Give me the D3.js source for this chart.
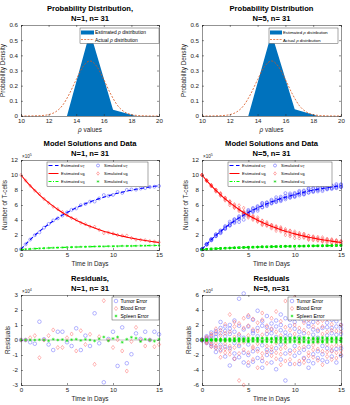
<!DOCTYPE html>
<html><head><meta charset="utf-8">
<script src="https://cdn.jsdelivr.net/npm/d3@7"></script>
<style>
html,body{margin:0;padding:0;background:#fff;}
svg{display:block;font-family:"Liberation Sans",Arial,sans-serif;}
</style></head>
<body>
<svg id="fig" width="350" height="405"></svg>
<script>
// ---------------- DATA ----------------
// Probability distributions (rho)
const rhoEstX = [10, 11.67, 13.33, 15, 16.67, 18.33, 20];
const rhoEstN1 = [0, 0, 0, 0.555, 0.042, 0, 0];
const rhoEstN5 = [0, 0, 0, 0.545, 0.045, 0, 0];
const rhoActX = [10,10.5,11,11.5,12,12.5,13,13.5,14,14.5,15,15.5,16,16.5,17,17.5,18,18.5,19,19.5,20];
const rhoAct  = [0,0,0.001,0.003,0.009,0.027,0.069,0.145,0.240,0.326,0.363,0.326,0.240,0.145,0.069,0.027,0.009,0.003,0.001,0,0];

// Time points (days)
const days = [0,0.5,1,1.5,2,2.5,3,3.5,4,4.5,5,5.5,6,6.5,7,7.5,8,8.5,9,9.5,10,10.5,11,11.5,12,12.5,13,13.5,14,14.5,15];
// Model solutions (x10^5 cells)
const uT = [0.10,0.76,1.38,1.95,2.48,2.98,3.44,3.87,4.28,4.65,5.00,5.32,5.62,5.91,6.17,6.41,6.64,6.85,7.04,7.22,7.40,7.56,7.70,7.85,7.97,8.09,8.20,8.31,8.40,8.49,8.57];
const uB = [10.0,9.26,8.58,7.94,7.36,6.81,6.31,5.85,5.41,5.01,4.64,4.30,3.98,3.69,3.41,3.16,2.93,2.71,2.51,2.33,2.15,2.00,1.85,1.71,1.59,1.47,1.36,1.26,1.17,1.08,1.00];
const uS = [0.05,0.10,0.14,0.18,0.21,0.24,0.27,0.30,0.32,0.34,0.36,0.38,0.40,0.42,0.43,0.45,0.46,0.48,0.49,0.50,0.51,0.52,0.53,0.54,0.55,0.56,0.57,0.58,0.59,0.60,0.61];

// Residuals N=1 (x10^4), one per time point
const resTumorN1 = [0,0,-0.15,-0.25,1.22,0.05,-0.3,-0.67,0.55,0.55,-0.15,-0.4,0.78,-0.67,0.29,-0.4,1.78,-0.22,-2.82,0.07,0.55,-1.73,0.84,-1.55,-0.95,0.44,0.07,0.55,0.0,0.55,0.38];
const resBloodN1 = [0,0,0.15,0.29,-1.18,0,0.29,0.67,-0.5,-0.5,0.15,0.4,-0.73,0.62,-0.3,0.38,-1.62,0.22,2.62,0,-0.5,0.02,-0.73,-2.07,-0.1,0.84,0,-0.4,0,-0.45,-0.3];
const resSpleenN1 = [0,0,0,0,0.02,0,-0.05,0.05,0,0.03,-0.05,0.02,0.05,-0.03,0.04,0,-0.06,0.08,0.2,-0.05,0.1,0.2,-0.15,0.05,0.18,0.12,-0.1,0.05,0,-0.08,0.05];

// Residuals N=5 (x10^4), five per time point
const resTumorN5 = [
 [0,0,0,0,0],[0.3,-0.2,0.5,-0.4,0.1],[0.6,-0.5,1.0,-0.8,0.2],[1.2,-1.0,0.4,-1.6,0.8],
 [2.4,-1.3,0.9,-0.6,1.6],[1.8,-2.2,0.5,1.2,-0.9],[-3.4,2.0,-1.1,0.8,1.5],[2.6,-1.8,-0.4,1.1,-2.5],
 [5.5,-2.3,1.9,-0.8,0.6],[6.2,-3.0,1.4,-1.7,0.3],[-2.0,3.1,-0.6,1.8,-3.4],[2.7,-1.5,0.9,-2.9,1.2],
 [3.9,-2.4,0.5,1.6,-1.2],[-2.8,1.9,-0.7,2.5,-3.7],[3.2,-1.3,0.8,-2.0,1.7],[-1.6,2.2,-3.0,0.9,1.4],
 [-3.9,1.8,2.6,-1.1,0.4],[2.0,-2.6,1.3,-0.6,3.4],[-5.4,2.9,-1.8,1.0,0.5],[1.9,-3.2,2.7,-1.4,0.6],
 [-2.1,1.5,3.3,-0.8,2.4],[2.9,-1.7,-3.2,1.1,0.4],[-1.3,2.6,-2.4,3.1,0.9],[1.8,-3.7,2.2,-0.9,-2.8],
 [2.4,-1.9,0.7,-3.1,1.4],[-2.4,1.2,2.8,-1.5,0.3],[1.6,-2.7,3.4,-0.8,-1.9],[-1.1,2.3,-2.9,1.7,0.6],
 [2.7,-1.4,0.9,-2.2,1.6],[-3.0,1.8,-1.2,2.5,0.7],[1.5,-2.1,0.8,-1.1,2.0]];
const resBloodN5 = [
 [0,0,0,0,0],[-0.3,0.2,-0.4,0.4,-0.1],[-0.6,0.5,-0.9,0.8,-0.2],[-1.1,1.0,-0.4,1.5,-0.8],
 [-2.3,1.3,-0.9,0.6,-1.5],[-1.7,2.1,-0.5,-1.2,0.9],[3.4,-1.9,1.1,-0.8,-1.4],[-2.5,1.8,0.4,-1.0,2.4],
 [-5.4,2.2,-1.8,0.8,-0.6],[-6.0,2.9,-1.3,1.6,-0.3],[1.9,-3.0,0.6,-1.7,3.3],[-2.6,1.4,-0.9,2.8,-1.1],
 [-3.7,2.3,-0.5,-1.5,1.2],[2.7,-1.8,0.7,-2.4,3.6],[-3.1,1.2,-0.8,1.9,-1.6],[1.5,-2.1,2.9,-0.9,-1.3],
 [3.8,-1.7,-2.5,1.1,-0.4],[-1.9,2.5,-1.2,0.6,-3.3],[5.2,-2.8,1.7,-1.0,-0.5],[-1.8,3.1,-2.6,1.3,5.1],
 [2.0,-1.4,-3.2,0.8,5.7],[-2.8,1.6,4.5,-1.1,-0.4],[1.3,-2.5,2.3,-3.0,-0.9],[-1.7,3.6,-2.1,0.9,2.7],
 [-2.3,1.8,-0.7,3.0,-1.3],[2.3,-1.2,-2.7,1.4,-0.3],[-1.5,2.6,-3.3,0.8,1.8],[1.1,-2.2,2.8,-1.6,-0.6],
 [-2.6,1.3,-0.9,2.1,-1.5],[2.9,-1.7,1.2,-2.4,-0.7],[-1.4,2.0,-0.8,1.1,-1.9]];
const resSpleenN5 = [
 [0,0,0,0,0],[0.02,-0.03,0.05,-0.02,0.01],[0.05,-0.06,0.08,-0.04,0.02],[0.08,-0.1,0.12,-0.05,0.04],
 [0.1,-0.12,0.15,-0.08,0.05],[0.12,-0.15,0.1,-0.1,0.06],[-0.15,0.18,-0.1,0.08,0.12],[0.16,-0.14,0.2,-0.1,-0.06],
 [0.2,-0.18,0.1,-0.12,0.15],[0.22,-0.2,0.12,-0.15,0.05],[-0.18,0.24,-0.1,0.15,-0.22],[0.2,-0.15,0.25,-0.2,0.1],
 [0.25,-0.22,0.1,0.18,-0.12],[-0.2,0.26,-0.15,0.2,-0.25],[0.28,-0.18,0.1,-0.24,0.15],[-0.22,0.25,-0.28,0.12,0.18],
 [-0.3,0.2,0.28,-0.15,0.05],[0.25,-0.3,0.15,-0.1,0.3],[-0.32,0.28,-0.2,0.12,0.08],[0.22,-0.3,0.3,-0.15,0.1],
 [-0.25,0.2,0.32,-0.12,0.28],[0.3,-0.22,-0.3,0.15,0.06],[-0.18,0.3,-0.28,0.32,0.1],[0.24,-0.35,0.26,-0.12,-0.3],
 [0.28,-0.22,0.1,-0.32,0.18],[-0.28,0.15,0.3,-0.2,0.05],[0.2,-0.3,0.35,-0.1,-0.22],[-0.15,0.28,-0.32,0.2,0.08],
 [0.3,-0.18,0.12,-0.26,0.2],[-0.32,0.22,-0.15,0.3,0.1],[0.2,-0.26,0.12,-0.15,0.28]];

// Tick values
const rhoTicks = [10,12,14,16,18,20];
const densTicks = [0,0.1,0.2,0.3,0.4,0.5,0.6];
const dayTicks = [0,5,10,15];
const cellTicks = [0,2,4,6,8,10,12];
const resTicksN1 = [-3,-2,-1,0,1,2,3];
const resTicksN5 = [-6,-4,-2,0,2,4,6];

// ---------------- DRAWING ----------------
const svg = d3.select("#fig");
const C_BLUE="#0072BD", C_ORANGE="#D95319";
const cols=[{l:21,r:159},{l:202,r:341}];
const rows=[{t:25,b:116},{t:160,b:250},{t:295,b:385}];
const AX="#262626";

function axesPanel(col,row,o){
  const g=svg.append("g");
  const x=d3.scaleLinear().domain(o.xd).range([col.l,col.r]);
  const y=d3.scaleLinear().domain(o.yd).range([row.b,row.t]);
  const plot=g.append("g");
  o.title.forEach((t,i)=>g.append("text").attr("x",(col.l+col.r)/2).attr("y",row.t-14+i*10)
     .attr("text-anchor","middle").attr("font-size",7.6).attr("font-weight","bold").attr("fill","#000").text(t));
  const ax=g.append("g");
  const tl=2;
  const bx=d3.axisBottom(x).tickValues(o.xt).tickSize(-tl).tickPadding(3).tickFormat(o.xf||d3.format("d"));
  const by=d3.axisLeft(y).tickValues(o.yt).tickSize(-tl).tickPadding(3).tickFormat(o.yf||(d=>d));
  const tx=d3.axisTop(x).tickValues(o.xt).tickSize(-tl).tickFormat("");
  const ty=d3.axisRight(y).tickValues(o.yt).tickSize(-tl).tickFormat("");
  ax.append("g").attr("transform",`translate(0,${row.b})`).call(bx);
  ax.append("g").attr("transform",`translate(${col.l},0)`).call(by);
  ax.append("g").attr("transform",`translate(0,${row.t})`).call(tx);
  ax.append("g").attr("transform",`translate(${col.r},0)`).call(ty);
  ax.selectAll("path.domain").attr("stroke",AX).attr("stroke-width",0.5);
  ax.selectAll(".tick line").attr("stroke",AX).attr("stroke-width",0.5);
  ax.selectAll(".tick text").attr("font-size",6.2).attr("fill",AX).attr("font-family","Liberation Sans, Arial, sans-serif");
  g.append("text").attr("x",(col.l+col.r)/2).attr("y",row.b+16).attr("text-anchor","middle")
    .attr("font-size",6.4).attr("fill",AX).html(o.xl);
  g.append("text").attr("transform",`translate(${col.l-o.ylOff},${(row.t+row.b)/2}) rotate(-90)`).attr("text-anchor","middle")
    .attr("font-size",6.4).attr("fill",AX).text(o.yl);
  if(o.exp){
    const e=g.append("text").attr("x",col.l+1).attr("y",row.t-2).attr("font-size",4.6).attr("fill",AX);
    e.append("tspan").text("\u00d710");
    e.append("tspan").attr("dy",-2).attr("font-size",3.6).text(o.exp);
  }
  return {g,plot,x,y,ax};
}

function circle(sel,x,y,color,r){ sel.append("circle").attr("cx",x).attr("cy",y).attr("r",r||1.5).style("fill","none").style("stroke",color).style("stroke-width",0.45); }
function diamond(sel,x,y,color,r){ const s=(r||1.5)*1.15; sel.append("path").attr("d",`M${x},${y-s}L${x+s*0.75},${y}L${x},${y+s}L${x-s*0.75},${y}Z`).style("fill","none").style("stroke",color).style("stroke-width",0.45); }
function star(sel,x,y,color,r){ const s=(r||1.5)*0.85; sel.append("path").attr("d",`M${x-s},${y}H${x+s}M${x},${y-s}V${y+s}M${x-s*0.7},${y-s*0.7}L${x+s*0.7},${y+s*0.7}M${x-s*0.7},${y+s*0.7}L${x+s*0.7},${y-s*0.7}`).style("fill","none").style("stroke",color).style("stroke-width",0.45); }

// --- Top: probability distributions
function distPanel(col,est,title,legW){
  const p=axesPanel(col,rows[0],{xd:[10,20],yd:[0,0.6],xt:rhoTicks,yt:densTicks,yf:d3.format(".1~f"),
     title:title,xl:"<tspan font-style='italic'>\u03c1</tspan> values",yl:"Probability Density",ylOff:16});
  const pts=rhoEstX.map((v,i)=>[v,est[i]]);
  p.plot.append("path").datum(pts).attr("fill",C_BLUE).attr("stroke","none")
    .attr("d",d3.area().x(d=>p.x(d[0])).y0(p.y(0)).y1(d=>p.y(d[1])));
  p.plot.append("path").datum(rhoActX.map((v,i)=>[v,rhoAct[i]])).attr("fill","none").attr("stroke",C_ORANGE)
    .attr("stroke-width",0.8).attr("stroke-dasharray","2,1.5")
    .attr("d",d3.line().curve(d3.curveMonotoneX).x(d=>p.x(d[0])).y(d=>p.y(d[1])));
  p.ax.raise();
  const lg=p.g.append("g");
  const lx=legW.x0, ly=rows[0].t+3, lw=col.r-legW.x0-legW.rpad, lh=15.5;
  lg.append("rect").attr("x",lx).attr("y",ly).attr("width",lw).attr("height",lh).attr("fill","#fff").attr("stroke",AX).attr("stroke-width",0.4);
  lg.append("rect").attr("x",lx+1).attr("y",ly+2.5).attr("width",legW.sw).attr("height",4).attr("fill",C_BLUE);
  lg.append("path").attr("d",`M${lx+1},${ly+11.5}H${lx+1+legW.sw}`).style("fill","none").style("stroke",C_ORANGE).style("stroke-width",0.7).style("stroke-dasharray","2,1.2");
  [["Estimated ","distribution",4.8],["Actual ","distribution",12.3]].forEach(d=>{
    const t=lg.append("text").attr("x",lx+legW.sw+2).attr("y",ly+d[2]+1.6).attr("font-size",legW.fs).attr("fill","#000");
    t.append("tspan").text(d[0]); t.append("tspan").attr("font-style","italic").text("\u03c1 "); t.append("tspan").text(d[1]);
  });
}
distPanel(cols[0],rhoEstN1,["Probability Distribution,","N=1, n= 31"],{x0:80,rpad:0,sw:13,fs:4.9});
distPanel(cols[1],rhoEstN5,["Probability Distribution","N=5, n= 31"],{x0:269,rpad:3,sw:12,fs:4.3});

// --- Middle: model solutions
const LINE_COLS=["#0000FF","#FF0000","#00FF00"];
const DATA_COLS=["#3a3aff","#ff4040","#00d000"];
const DASHES=["4,2.5",null,"3,1.5,1,1.5"];
function modelPanel(col,resT,resB,resS,multi,title,leg){
  const p=axesPanel(col,rows[1],{xd:[0,15],yd:[0,12],xt:dayTicks,yt:cellTicks,title:title,
     xl:"Time in Days",yl:"Number of T-cells",ylOff:14,exp:"5"});
  const line=arr=>d3.line().curve(d3.curveMonotoneX).x((d,i)=>p.x(days[i])).y(d=>p.y(d))(arr);
  const series=[[uT,resT,circle],[uB,resB,diamond],[uS,resS,star]];
  series.forEach(([m,r,mk],k)=>{
    days.forEach((t,i)=>{
      const vals=multi? r[i] : [r[i]];
      vals.forEach(v=>mk(p.plot,p.x(t),p.y(m[i]-v/10),DATA_COLS[k],1.5));
    });
  });
  [uT,uB,uS].forEach((m,k)=>{
    const pa=p.plot.append("path").attr("d",line(m)).style("fill","none").style("stroke",LINE_COLS[k]).style("stroke-width",1.1);
    if(DASHES[k]) pa.style("stroke-dasharray",DASHES[k]);
  });
  const lg=p.g.append("g");
  lg.append("rect").attr("x",leg.x0).attr("y",rows[1].t+2).attr("width",leg.w).attr("height",24.5).attr("fill","#fff").attr("stroke",AX).attr("stroke-width",0.4);
  const subs=["T","B","S"], mks=[circle,diamond,star];
  subs.forEach((s,i)=>{
    const yy=rows[1].t+5.5+i*8;
    const sp=lg.append("path").attr("d",`M${leg.x0+1.5},${yy}H${leg.x0+11.5}`).style("fill","none").style("stroke",LINE_COLS[i]).style("stroke-width",1);
    if(DASHES[i]) sp.style("stroke-dasharray",DASHES[i]);
    const t1=lg.append("text").attr("x",leg.x0+14).attr("y",yy+1.5).attr("font-size",4.1).attr("fill","#000");
    t1.append("tspan").text("Estimated u"); t1.append("tspan").attr("dy",1).attr("font-size",3).text(s);
    mks[i](lg,leg.x0+leg.m,yy,DATA_COLS[i],1.5);
    const t2=lg.append("text").attr("x",leg.x0+leg.m+6).attr("y",yy+1.5).attr("font-size",4.1).attr("fill","#000");
    t2.append("tspan").text("Simulated u"); t2.append("tspan").attr("dy",1).attr("font-size",3).text(s);
  });
}
modelPanel(cols[0],resTumorN1,resBloodN1,resSpleenN1,false,["Model Solutions and Data","N=1, n= 31"],{x0:47,w:101,m:51});
modelPanel(cols[1],resTumorN5,resBloodN5,resSpleenN5,true,["Model Solutions and Data","N=5, n= 31"],{x0:228,w:104,m:47});

// --- Bottom: residuals
const RES_COLS=["#5a5aff","#ff5a5a","#00e000"];
function resPanel(col,resT,resB,resS,multi,yd,yt,title,leg){
  const p=axesPanel(col,rows[2],{xd:[0,15],yd:yd,xt:dayTicks,yt:yt,title:title,
     xl:"Time in Days",yl:"Residuals",ylOff:11,exp:"4"});
  p.plot.append("path").attr("d",`M${p.x(0)},${p.y(0)}H${p.x(15)}`).style("stroke","#c8c8c8").style("stroke-width",1.2);
  [[resT,circle],[resB,diamond],[resS,star]].forEach(([r,mk],k)=>{
    days.forEach((t,i)=>{
      const vals=multi? r[i] : [r[i]];
      vals.forEach(v=>mk(p.plot,p.x(t),p.y(v),RES_COLS[k],1.8));
    });
  });
  const lg=p.g.append("g");
  lg.append("rect").attr("x",leg.x0).attr("y",rows[2].t+2).attr("width",col.r-leg.x0).attr("height",23).attr("fill","#fff").attr("stroke",AX).attr("stroke-width",0.4);
  [["Tumor Error",circle],["Blood Error",diamond],["Spleen Error",star]].forEach((d,i)=>{
    const yy=rows[2].t+6+i*7.5;
    d[1](lg,leg.x0+4,yy,RES_COLS[i],1.8);
    lg.append("text").attr("x",leg.x0+8.5).attr("y",yy+1.8).attr("font-size",5).attr("fill","#000").text(d[0]);
  });
}
resPanel(cols[0],resTumorN1,resBloodN1,resSpleenN1,false,[-3,3],resTicksN1,["Residuals,","N=1, n= 31"],{x0:112});
resPanel(cols[1],resTumorN5,resBloodN5,resSpleenN5,true,[-6,6],resTicksN5,["Residuals","N=5, n=31"],{x0:288});
</script>
</body></html>
